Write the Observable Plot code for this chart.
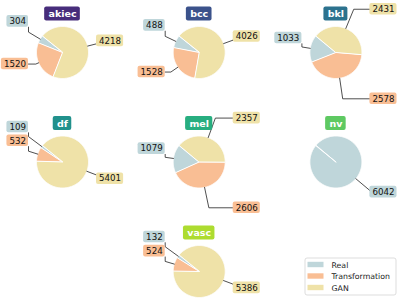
<!DOCTYPE html>
<html>
<head>
<meta charset="utf-8">
<script src="https://cdn.jsdelivr.net/npm/d3@7"></script>
<script src="https://cdn.jsdelivr.net/npm/@observablehq/plot@0.6"></script>
<style>
  html, body { margin: 0; padding: 0; background: #fff; }
  #chart svg { display: block; }
</style>
</head>
<body>
<div id="chart"></div>
<script>
// ---- data ----
const classes = ["akiec", "bcc", "bkl", "df", "mel", "nv", "vasc"];
const seriesNames = ["Real", "Transformation", "GAN"];
const realCounts = [304, 488, 1033, 109, 1079, 6042, 132];
const transformationCounts = [1520, 1528, 2578, 532, 2606, 0, 524];
const ganCounts = [4218, 4026, 2431, 5401, 2357, 0, 5386];
const classColors = ["#472d7b", "#3b528b", "#2c728e", "#21918c", "#28ae80", "#5ec962", "#addc30"];
const sliceColors = ["#bfd6da", "#f9be94", "#efe2a8"];

// ---- layout ----
const W = 399, H = 308;
const R = 26;                 // pie radius
const gridX0 = 62, gridDX = 136.7, gridY0 = 52, gridDY = 109.5;
const startAngle = 140;       // degrees, counter-clockwise
const labelFont = 8.7, titleFont = 9.5, legendFont = 7.8;
const font = "DejaVu Sans";

const ctx = document.createElement("canvas").getContext("2d");
function textWidth(s, size, weight) {
  ctx.font = `${weight || "normal"} ${size}px "${font}"`;
  return ctx.measureText(s).width;
}

const series = [realCounts, transformationCounts, ganCounts];
const wedgePts = [], linkPts = [], labels = [], titles = [];

classes.forEach((cls, i) => {
  const col = i < 6 ? i % 3 : 1;
  const row = i < 6 ? Math.floor(i / 3) : 2;
  const cx = gridX0 + col * gridDX, cy = gridY0 + row * gridDY;
  const total = d3.sum(series, s => s[i]);
  titles.push({cls, color: classColors[i], x: cx, y: cy - 38.5, w: textWidth(cls, titleFont, "bold")});
  let a0 = startAngle;
  series.forEach((s, k) => {
    const v = s[i];
    if (!v) return;
    const span = v / total * 360;
    const a1 = a0 + span;
    const key = cls + "-" + k;
    wedgePts.push({key, cat: seriesNames[k], x: cx, y: cy});
    const n = Math.max(2, Math.ceil(span));
    for (let j = 0; j <= n; j++) {
      const a = (a0 + (a1 - a0) * j / n) * Math.PI / 180;
      wedgePts.push({key, cat: seriesNames[k], x: cx + R * Math.cos(a), y: cy - R * Math.sin(a)});
    }
    // label placement
    const mid = (a0 + span / 2) * Math.PI / 180;
    const c = Math.cos(mid), sn = Math.sin(mid);
    const side = c >= 0 ? 1 : -1;
    const up = 1.8 * R * sn + (side < 0 ? 0.27 * R : 0);
    const ty = cy - up;
    const edge = 34;
    const tw = textWidth(String(v), labelFont);
    const boxTop = ty - 5.8, boxBot = ty + 5.8;
    labels.push({
      text: String(v), cat: seriesNames[k], side,
      tx: cx + side * 36.5, ty,
      x1: cx + side * edge, x2: cx + side * (36.5 + tw + 2.5), y1: boxTop, y2: boxBot
    });
    // connector
    const lk = key + "-l";
    linkPts.push({key: lk, x: cx + R * c, y: cy - R * sn});
    let tY = sn !== 0 ? (up - R * sn) / sn : Infinity;
    if (tY < 0) tY = Infinity;
    const tX = (edge - R * Math.abs(c)) / Math.abs(c);
    const t = Math.min(tX, tY);
    const px = cx + (R + t) * c, py = cy - (R + t) * sn;
    linkPts.push({key: lk, x: px, y: py});
    if (tY <= tX) {
      linkPts.push({key: lk, x: cx + side * edge, y: ty});
    } else {
      linkPts.push({key: lk, x: cx + side * edge, y: Math.min(Math.max(py, boxTop), boxBot)});
    }
    a0 = a1;
  });
});

// legend layout
const legX = 305, legY = 258, legW = 91, legH = 37, legRow = 11.5;
const legend = seriesNames.map((name, k) => ({name, y: legY + 6.5 + k * legRow}));

const plot = Plot.plot({
  width: W, height: H,
  margin: 0,
  x: {domain: [0, W], axis: null},
  y: {domain: [0, H], reverse: true, axis: null},
  color: {domain: seriesNames, range: sliceColors},
  style: {fontFamily: font, background: "#fff"},
  marks: [
    Plot.line(wedgePts, {x: "x", y: "y", z: "key", fill: "cat", stroke: "white", strokeWidth: 1, curve: "linear-closed", strokeLinejoin: "round"}),
    Plot.line(linkPts, {x: "x", y: "y", z: "key", stroke: "#222", strokeWidth: 0.8}),
    Plot.rect(labels, {x1: "x1", x2: "x2", y1: "y1", y2: "y2", fill: "cat", rx: 2}),
    Plot.text(labels.filter(d => d.side > 0), {x: "tx", y: "ty", text: "text", textAnchor: "start", fontSize: labelFont, fill: "#111"}),
    Plot.text(labels.filter(d => d.side < 0), {x: "tx", y: "ty", text: "text", textAnchor: "end", fontSize: labelFont, fill: "#111"}),
    Plot.rect(titles, {x1: d => d.x - d.w / 2 - 3.8, x2: d => d.x + d.w / 2 + 3.8, y1: d => d.y - 7, y2: d => d.y + 7, fill: d => d.color, rx: 2}),
    Plot.text(titles, {x: "x", y: "y", text: "cls", fill: "white", fontWeight: "bold", fontSize: titleFont}),
    Plot.rect([0], {x1: legX, x2: legX + legW, y1: legY, y2: legY + legH, fill: "white", stroke: "#d4d4d4", strokeWidth: 0.8, rx: 2}),
    Plot.rect(legend, {x1: legX + 2.5, x2: legX + 18.5, y1: d => d.y - 2.7, y2: d => d.y + 2.7, fill: "name"}),
    Plot.text(legend, {x: legX + 26, y: "y", text: "name", textAnchor: "start", fontSize: legendFont, fill: "#222"})
  ]
});
document.getElementById("chart").appendChild(plot);
</script>
</body>
</html>
